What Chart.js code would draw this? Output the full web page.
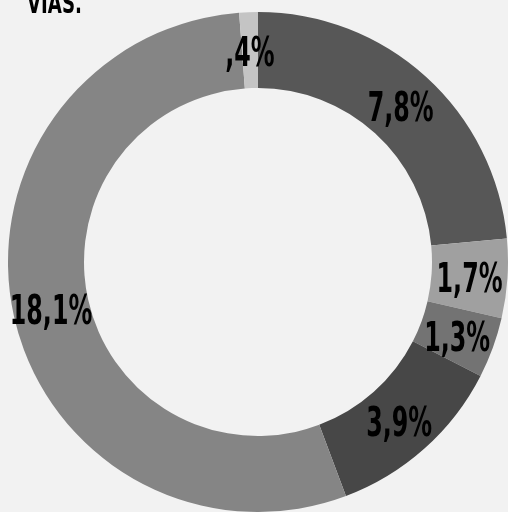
<!DOCTYPE html>
<html>
<head>
<meta charset="utf-8">
<script src="https://cdn.jsdelivr.net/npm/chart.js@4/dist/chart.umd.min.js"></script>
<style>
html,body{margin:0;padding:0;background:#f2f2f2;overflow:hidden;}
canvas{display:block;}
</style>
</head>
<body>
<canvas id="c" width="508" height="512"></canvas>
<script>
const categories = ['7,8%', '1,7%', '1,3%', '3,9%', '18,1%', ',4%'];
const values = [7.8, 1.7, 1.3, 3.9, 18.1, 0.4];
const valueLabels = ['7,8%', '1,7%', '1,3%', '3,9%', '18,1%', ',4%'];
const colors = ['#575757', '#a0a0a0', '#737373', '#474747', '#858585', '#c4c4c4'];
const titleText = 'VIAS.';

const FONT = 'bold 41px "DejaVu Sans", sans-serif';
const SQUEEZE = 0.58;

const labelPlugin = {
  id: 'labels',
  afterDatasetsDraw(chart) {
    const ctx = chart.ctx;
    const meta = chart.getDatasetMeta(0);
    ctx.save();
    ctx.fillStyle = '#000000';
    ctx.font = FONT;
    ctx.textAlign = 'center';
    ctx.textBaseline = 'alphabetic';
    meta.data.forEach((arc, i) => {
      const p = arc.tooltipPosition();
      ctx.save();
      ctx.translate(p.x, p.y + 16);
      ctx.scale(SQUEEZE, 1);
      ctx.fillText(valueLabels[i], 0, 0);
      ctx.restore();
    });
    // title, cut at top
    ctx.save();
    ctx.font = 'bold 28px "DejaVu Sans", sans-serif';
    ctx.textAlign = 'left';
    ctx.translate(27, 13);
    ctx.scale(0.65, 1);
    ctx.fillText(titleText, 0, 0);
    ctx.restore();
    ctx.restore();
  }
};

new Chart(document.getElementById('c'), {
  type: 'doughnut',
  data: {
    labels: categories,
    datasets: [{
      data: values,
      backgroundColor: colors,
      borderWidth: 0,
      hoverOffset: 0
    }]
  },
  options: {
    responsive: false,
    animation: false,
    cutout: '69.6%',
    layout: { padding: { left: 8, top: 12, right: 0, bottom: 0 } },
    plugins: {
      legend: { display: false },
      tooltip: { enabled: false },
      title: { display: false }
    }
  },
  plugins: [labelPlugin]
});
</script>
</body>
</html>
